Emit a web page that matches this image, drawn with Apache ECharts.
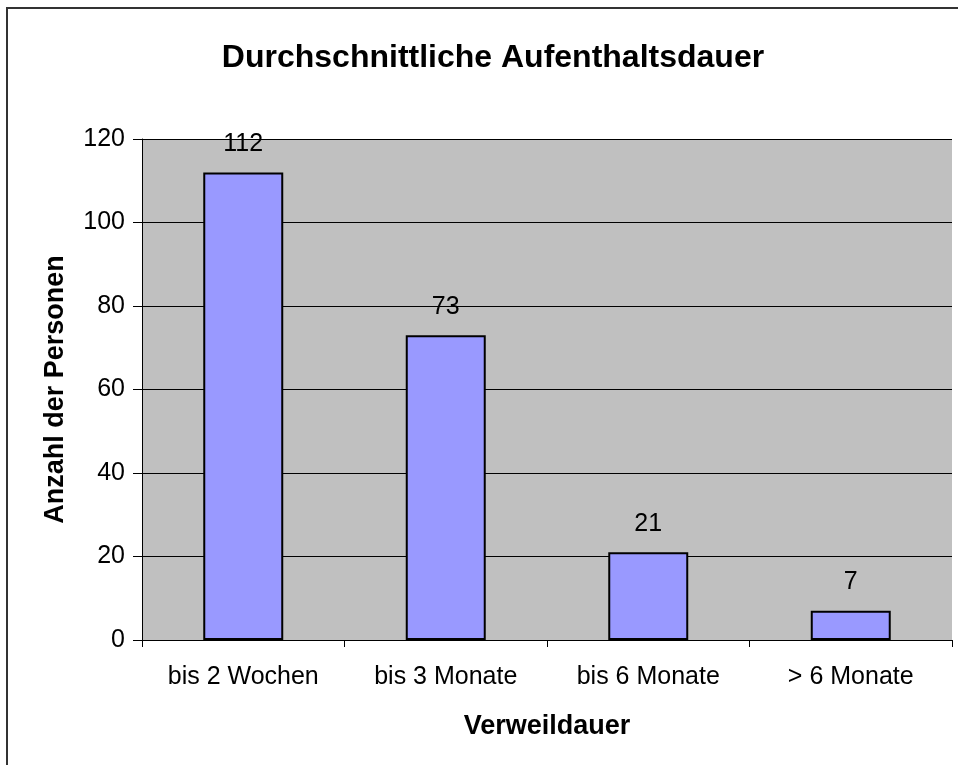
<!DOCTYPE html>
<html>
<head>
<meta charset="utf-8">
<script src="https://cdn.jsdelivr.net/npm/echarts@6/dist/echarts.min.js"></script>
<style>
html,body{margin:0;padding:0;background:#fff;}
#chart{width:958px;height:765px;}
</style>
</head>
<body>
<div id="chart"></div>
<script>
const categories = ['bis 2 Wochen', 'bis 3 Monate', 'bis 6 Monate', '> 6 Monate'];
const values = [112, 73, 21, 7];
const yTicks = { min: 0, max: 120, interval: 20 };
const titleText = 'Durchschnittliche Aufenthaltsdauer';
const xName = 'Verweildauer';
const yName = 'Anzahl der Personen';

const FONT = '"Liberation Sans", Arial, sans-serif';
const chart = echarts.init(document.getElementById('chart'), null, { renderer: 'canvas' });
chart.setOption({
  animation: false,
  backgroundColor: '#ffffff',
  textStyle: { fontFamily: FONT },
  graphic: [{
    type: 'rect',
    shape: { x: 7, y: 8, width: 1000, height: 800 },
    style: { fill: 'none', stroke: '#333333', lineWidth: 2 },
    silent: true, z: 100
  }],
  title: {
    text: titleText,
    left: 488, top: 37, textAlign: 'center',
    textStyle: { fontFamily: FONT, fontSize: 32, fontWeight: 'bold', color: '#000' }
  },
  grid: {
    left: 142, right: 6, top: 139, bottom: 125,
    show: true, backgroundColor: '#c0c0c0', borderWidth: 0
  },
  xAxis: {
    type: 'category',
    data: categories,
    name: xName,
    nameLocation: 'middle',
    nameGap: 73,
    nameTextStyle: { fontFamily: FONT, fontSize: 27, fontWeight: 'bold', color: '#000' },
    axisLine: { lineStyle: { color: '#000', width: 1 } },
    axisTick: { show: true, alignWithLabel: false, length: 7, lineStyle: { color: '#000' } },
    axisLabel: { fontFamily: FONT, fontSize: 25, color: '#000', margin: 25, interval: 0 },
    splitLine: { show: false }
  },
  yAxis: {
    type: 'value',
    min: yTicks.min, max: yTicks.max, interval: yTicks.interval,
    name: yName,
    nameLocation: 'middle',
    nameGap: 73,
    nameRotate: 90,
    nameTextStyle: { fontFamily: FONT, fontSize: 27, fontWeight: 'bold', color: '#000' },
    axisLine: { show: true, lineStyle: { color: '#000', width: 1 } },
    axisTick: { show: true, length: 9, inside: false, lineStyle: { color: '#000' } },
    axisLabel: { fontFamily: FONT, fontSize: 25, color: '#000', margin: 17 },
    splitLine: { show: true, lineStyle: { color: '#000', width: 1 } }
  },
  series: [{
    type: 'bar',
    data: values,
    barWidth: '39.5%',
    itemStyle: { color: '#9999ff', borderColor: '#000', borderWidth: 2 },
    label: { show: true, position: 'top', distance: 16, fontFamily: FONT, fontSize: 25, color: '#000' }
  }]
});
</script>
</body>
</html>
